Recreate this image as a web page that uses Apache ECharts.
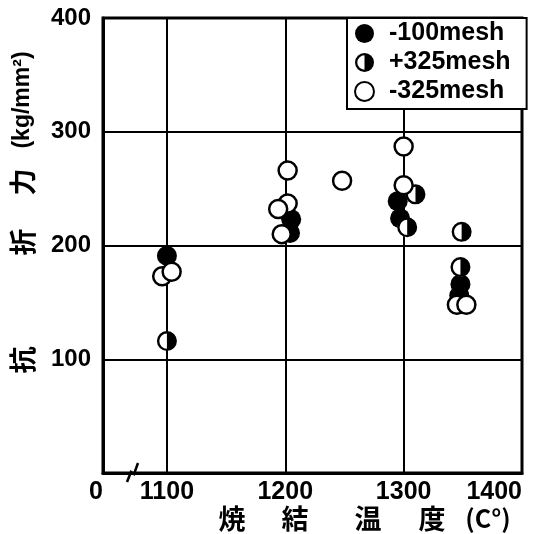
<!DOCTYPE html>
<html>
<head>
<meta charset="utf-8">
<script src="https://cdn.jsdelivr.net/npm/echarts@6/dist/echarts.min.js"></script>
<style>
  html, body { margin: 0; padding: 0; background: #fff; }
  #chart { width: 549px; height: 534px; }
</style>
</head>
<body>
<div id="chart"></div>
<script>
  // x axis starts at a break (shown as "0")
  var xMin = 1046, xMax = 1400;
  var xLabelValues = [1046, 1100, 1200, 1300, 1400];
  var xGridValues = [1100, 1200, 1300];
  var legendNames = ['-100mesh', '+325mesh', '-325mesh'];

  // [temperature, strength]
  var minus100 = [[1100, 191], [1205, 223], [1204, 211], [1295, 239], [1297, 224], [1348, 166], [1347, 156]];
  var plus325 = [[1100, 116], [1310, 245], [1303, 216], [1349, 212], [1348, 181]];
  var minus325 = [[1096, 173], [1104, 177], [1202, 266], [1202, 237], [1194, 232], [1197, 210],
                  [1248, 257], [1300, 287], [1300, 253], [1345, 148], [1353, 148]];

  var cjk = '"Noto Sans CJK JP", sans-serif';
  var latin = '"Liberation Sans", Arial, sans-serif';

  // half filled circle: ring + right half disc
  var halfPath = 'path://M10 0A10 10 0 1 1 10 20A10 10 0 1 1 10 0ZM10 2.4A7.6 7.6 0 0 0 10 17.6L10 2.4Z';

  var myChart = echarts.init(document.getElementById('chart'));

  var option = {
    backgroundColor: '#fff',
    animation: false,
    grid: {
      left: 103, right: 27, top: 18, bottom: 61,
      show: true,
      borderColor: '#000',
      borderWidth: 3
    },
    legend: {
      data: legendNames,
      orient: 'vertical',
      left: 347,
      top: 18,
      padding: [3, 16, 5, 7],
      itemWidth: 19,
      itemHeight: 19,
      itemGap: 4,
      backgroundColor: '#fff',
      borderColor: '#000',
      borderWidth: 2,
      textStyle: {
        fontFamily: latin,
        fontWeight: 'bold',
        fontSize: 25,
        color: '#000',
        padding: [0, 0, 0, 10]
      }
    },
    xAxis: {
      type: 'value',
      min: xMin,
      max: xMax,
      axisLine: { show: true, lineStyle: { color: '#000', width: 3 } },
      axisTick: { show: false, customValues: xGridValues },
      splitLine: { show: true, lineStyle: { color: '#000', width: 2 } },
      axisLabel: {
        customValues: xLabelValues,
        margin: 7,
        alignMinLabel: 'right',
        alignMaxLabel: 'right',
        fontFamily: latin,
        fontWeight: 'bold',
        fontSize: 25,
        color: '#000',
        formatter: function (v) { return v === xMin ? '0' : String(v); }
      }
    },
    yAxis: {
      type: 'value',
      min: 0,
      max: 400,
      interval: 100,
      axisLine: { show: true, lineStyle: { color: '#000', width: 3 } },
      axisTick: { show: false },
      splitLine: { show: true, lineStyle: { color: '#000', width: 2 } },
      axisLabel: {
        margin: 12,
        fontFamily: latin,
        fontWeight: 'bold',
        fontSize: 24,
        color: '#000',
        formatter: function (v) { return v === 0 ? '' : String(v); }
      }
    },
    graphic: [
      // axis break mark
      { type: 'polyline', shape: { points: [[127, 482], [131, 472], [134, 474], [138, 463]] },
        style: { stroke: '#000', lineWidth: 2.5, fill: null }, z: 100 },
      // y axis name
      { type: 'text', x: 23, y: 360, rotation: Math.PI / 2,
        style: { text: '抗', font: 'bold 27px ' + cjk, fill: '#000', align: 'center', verticalAlign: 'middle' } },
      { type: 'text', x: 23, y: 242, rotation: Math.PI / 2,
        style: { text: '折', font: 'bold 27px ' + cjk, fill: '#000', align: 'center', verticalAlign: 'middle' } },
      { type: 'text', x: 23, y: 182, rotation: Math.PI / 2,
        style: { text: '力', font: 'bold 27px ' + cjk, fill: '#000', align: 'center', verticalAlign: 'middle' } },
      { type: 'text', x: 23, y: 100, rotation: Math.PI / 2,
        style: { text: '(kg/mm²)', font: 'bold 23px ' + latin, fill: '#000', align: 'center', verticalAlign: 'middle' } },
      // x axis name
      { type: 'text', x: 232, y: 519,
        style: { text: '焼', font: 'bold 27px ' + cjk, fill: '#000', align: 'center', verticalAlign: 'middle' } },
      { type: 'text', x: 295, y: 519,
        style: { text: '結', font: 'bold 27px ' + cjk, fill: '#000', align: 'center', verticalAlign: 'middle' } },
      { type: 'text', x: 368, y: 519,
        style: { text: '温', font: 'bold 27px ' + cjk, fill: '#000', align: 'center', verticalAlign: 'middle' } },
      { type: 'text', x: 432, y: 519,
        style: { text: '度', font: 'bold 27px ' + cjk, fill: '#000', align: 'center', verticalAlign: 'middle' } },
      { type: 'text', x: 488, y: 518,
        style: { text: '(C°)', font: 'bold 25px ' + cjk, fill: '#000', align: 'center', verticalAlign: 'middle' } }
    ],
    series: [
      {
        name: '-100mesh',
        type: 'scatter',
        symbol: 'circle',
        symbolSize: 20,
        itemStyle: { color: '#000', opacity: 1 },
        data: minus100,
        z: 2
      },
      {
        // white base under the half filled marks
        name: 'plus325base',
        type: 'scatter',
        symbol: 'circle',
        symbolSize: 19,
        itemStyle: { color: '#fff', opacity: 1 },
        data: plus325,
        silent: true,
        z: 3
      },
      {
        name: '+325mesh',
        type: 'scatter',
        symbol: halfPath,
        symbolSize: 20,
        itemStyle: { color: '#000', opacity: 1 },
        data: plus325,
        z: 4
      },
      {
        name: '-325mesh',
        type: 'scatter',
        symbol: 'circle',
        symbolSize: 18,
        itemStyle: { color: '#fff', borderColor: '#000', borderWidth: 2.5, opacity: 1 },
        data: minus325,
        z: 5
      }
    ]
  };

  myChart.setOption(option);
</script>
</body>
</html>
